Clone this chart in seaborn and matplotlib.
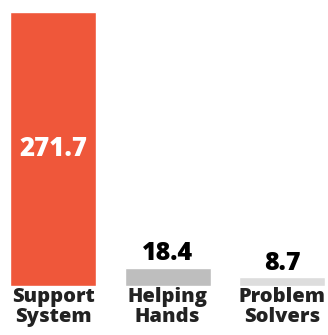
import matplotlib
matplotlib.use('Agg')
import matplotlib.pyplot as plt
import seaborn as sns

# 数据
categories = ['Support\nSystem', 'Helping\nHands', 'Problem\nSolvers']
values = [271.7, 18.4, 8.7]
colors = ['#EF573A', '#BEBEBE', '#DDDDDD']

sns.set_style('white')
plt.rcParams['font.family'] = ['Open Sans', 'DejaVu Sans']

fig = plt.figure(figsize=(3.28, 3.35), dpi=100)
ax = fig.add_axes([0, 0.146, 1, 0.854])

sns.barplot(x=categories, y=values, hue=categories, palette=colors,
            legend=False, width=0.75, saturation=1, ax=ax)

ax.set_xlim(-0.463, 2.40)
ax.set_ylim(0, 283.6)

# 标注数值
for i, v in enumerate(values):
    if i == 0:
        ax.text(i, v / 2, f'{v}', ha='center', va='center', color='white',
                fontsize=18.5, fontweight=800)
    else:
        ax.text(i, v + 1.5, f'{v}', ha='center', va='bottom', color='black',
                fontsize=18, fontweight=800)

ax.tick_params(axis='x', length=0, pad=1)
for lab in ax.get_xticklabels():
    lab.set_fontsize(14.5)
    lab.set_fontweight(800)
    lab.set_color('#222222')
    lab.set_linespacing(1.0)
ax.set_yticks([])
ax.set_xlabel('')
ax.set_ylabel('')
sns.despine(ax=ax, left=True, bottom=True)

fig.savefig('out.png', dpi=100)
